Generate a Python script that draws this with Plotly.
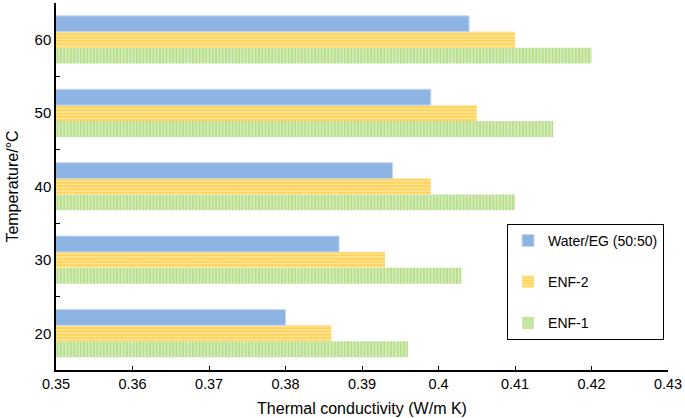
import plotly.graph_objects as go

categories = ["20", "30", "40", "50", "60"]
water_eg = [0.380, 0.387, 0.394, 0.399, 0.404]
enf2 = [0.386, 0.393, 0.399, 0.405, 0.410]
enf1 = [0.396, 0.403, 0.410, 0.415, 0.420]
x_tickvals = [0.35, 0.36, 0.37, 0.38, 0.39, 0.40, 0.41, 0.42, 0.43]
x_ticktext = ["0.35", "0.36", "0.37", "0.38", "0.39", "0.4", "0.41", "0.42", "0.43"]

fig = go.Figure()
fig.add_trace(go.Bar(
    y=categories, x=enf1, orientation="h", name="ENF-1", legendgroup="c", legendrank=3,
    marker=dict(color="#E6F4D4", line=dict(width=0),
                pattern=dict(shape="|", fgcolor="#86C83E", bgcolor="#E8F5D8", size=3.3, solidity=0.7)),
))
fig.add_trace(go.Bar(
    y=categories, x=enf2, orientation="h", name="ENF-2", legendgroup="b", legendrank=2,
    marker=dict(color="#FFF2C6", line=dict(width=0),
                pattern=dict(shape="-", fgcolor="#FFB800", bgcolor="#FFEDB5", size=3.3, solidity=0.7)),
))
fig.add_trace(go.Bar(
    y=categories, x=water_eg, orientation="h", name="Water/EG (50:50)", legendgroup="a", legendrank=1,
    marker=dict(color="#8EB4E3", line=dict(color="#C6D9F1", width=1)),
))

fig.update_layout(
    width=685, height=418,
    margin=dict(l=56, r=17, t=3, b=48),
    paper_bgcolor="white", plot_bgcolor="white",
    barmode="group", bargap=0.35, bargroupgap=0,
    font=dict(family="Liberation Sans, Arial, sans-serif", size=14, color="black"),
    showlegend=True,
    legend=dict(
        traceorder="grouped", tracegroupgap=20,
        x=0.737, y=0.398, xanchor="left", yanchor="top",
        bordercolor="black", borderwidth=1, bgcolor="white",
        font=dict(size=14), itemwidth=30,
    ),
    xaxis=dict(
        range=[0.35, 0.43], tickvals=x_tickvals, ticktext=x_ticktext,
        showline=True, linecolor="black", linewidth=1.5,
        ticks="inside", ticklen=4, tickcolor="black", tickwidth=1.2,
        showgrid=False, zeroline=False, automargin=False,
        tickfont=dict(size=14.5),
        title=dict(text="Thermal conductivity (W/m K)", font=dict(size=16), standoff=12),
    ),
    yaxis=dict(
        type="category", categoryorder="array", categoryarray=categories,
        showline=True, linecolor="black", linewidth=1.5,
        ticks="inside", ticklen=4, tickcolor="black", tickwidth=1.2,
        tickson="boundaries", showgrid=False, automargin=False,
        tickfont=dict(size=15),
        title=dict(text="Temperature/°C", font=dict(size=16), standoff=12),
    ),
)

fig.write_html(
    "out.html",
    config={"displayModeBar": False},
    post_script="document.body.style.margin='0';document.body.style.padding='0';",
)
